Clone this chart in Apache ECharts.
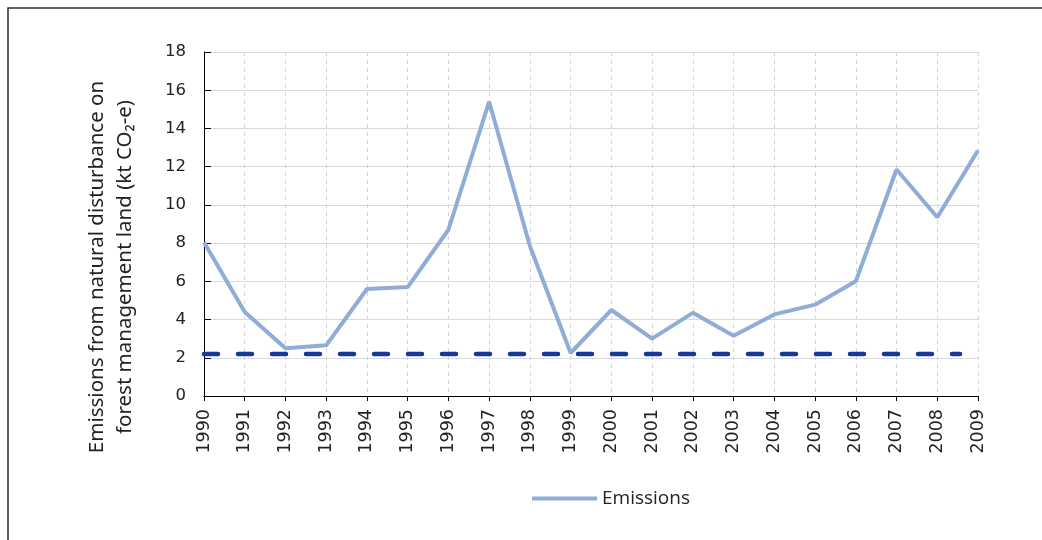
<!DOCTYPE html>
<html>
<head>
<meta charset="utf-8">
<script src="https://cdn.jsdelivr.net/npm/echarts@6/dist/echarts.min.js"></script>
<style>
html,body{margin:0;padding:0;background:#fff;}
#chart{width:1042px;height:540px;}
</style>
</head>
<body>
<div id="chart"></div>
<script>
var years = ['1990','1991','1992','1993','1994','1995','1996','1997','1998','1999','2000','2001','2002','2003','2004','2005','2006','2007','2008','2009'];
var emissions = [8.05, 4.4, 2.5, 2.65, 5.6, 5.7, 8.7, 15.4, 7.85, 2.25, 4.5, 3.0, 4.35, 3.15, 4.27, 4.78, 6.0, 11.85, 9.35, 12.85];
var referenceLevel = [[1990, 2.2], [2008.56, 2.2]];
var yTitleLines = ['Emissions from natural disturbance on', 'forest management land (kt CO\u2082-e)'];
var seriesName = 'Emissions';

var chart = echarts.init(document.getElementById('chart'), null, {renderer: 'canvas'});
chart.setOption({
  animation: false,
  backgroundColor: '#ffffff',
  grid: {left: 204, right: 64, top: 52, bottom: 144, containLabel: false},
  legend: {
    data: [seriesName],
    left: 527, top: 484,
    icon: 'rect', itemWidth: 65, itemHeight: 4, itemGap: 10,
    textStyle: {fontFamily: 'Open Sans', fontSize: 19, color: '#222'}
  },
  graphic: [
    {type: 'rect', shape: {x: 8, y: 8, width: 1100, height: 600},
     style: {fill: 'none', stroke: '#24323b', lineWidth: 1.5}, silent: true},
    {type: 'text', x: 97, y: 267, rotation: Math.PI / 2,
     style: {text: yTitleLines[0], font: '20.5px "Noto Sans"', fill: '#222', align: 'center', verticalAlign: 'middle'}},
    {type: 'text', x: 125, y: 267, rotation: Math.PI / 2,
     style: {text: yTitleLines[1], font: '20.5px "Noto Sans"', fill: '#222', align: 'center', verticalAlign: 'middle'}}
  ],
  xAxis: [{
    type: 'category', data: years, boundaryGap: false,
    axisLine: {lineStyle: {color: '#000', width: 1}},
    axisTick: {show: true, length: 5, lineStyle: {color: '#000'}},
    axisLabel: {rotate: 90, margin: 13, fontFamily: 'DejaVu Sans', fontSize: 17.5, color: '#222', interval: 0},
    splitLine: {show: true, lineStyle: {color: '#d6d6d6', type: [4, 4], width: 1}}
  }, {
    type: 'value', min: 1990, max: 2009, show: false
  }],
  yAxis: {
    type: 'value', min: 0, max: 18, interval: 2,
    axisLine: {show: true, lineStyle: {color: '#000', width: 1}},
    axisTick: {show: true, inside: true, length: 7, lineStyle: {color: '#000'}},
    axisLabel: {fontFamily: 'DejaVu Sans', fontSize: 16.5, color: '#222', margin: 18},
    splitLine: {show: true, lineStyle: {color: '#d9d9d9', width: 1}}
  },
  series: [{
    name: seriesName, type: 'line', data: emissions, xAxisIndex: 0,
    showSymbol: false, symbol: 'none',
    itemStyle: {color: '#8fadd7'},
    lineStyle: {color: '#8fadd7', width: 4}, z: 3
  }, {
    name: 'Reference', type: 'line', data: referenceLevel, xAxisIndex: 1,
    showSymbol: false, symbol: 'none',
    itemStyle: {color: '#17399a'},
    lineStyle: {color: '#17399a', width: 4.5, type: [14, 20], cap: 'round'}, z: 4
  }]
});
</script>
</body>
</html>
